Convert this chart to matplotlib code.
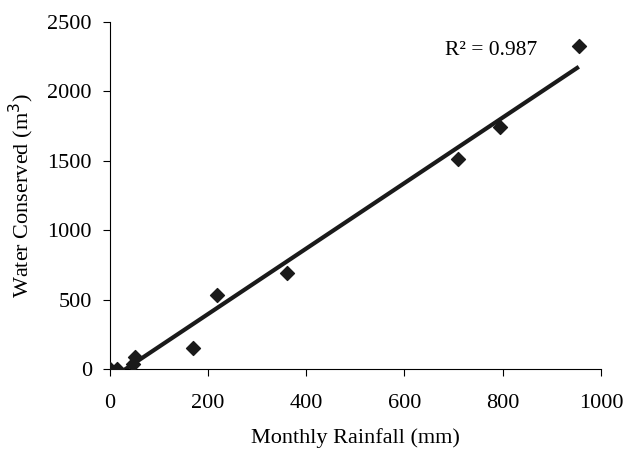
import numpy as np
import matplotlib
matplotlib.use("Agg")
import matplotlib.pyplot as plt

rainfall = [0, 14, 47, 51, 170, 219, 360, 710, 795, 955]
water = [0, 0, 35, 85, 153, 533, 692, 1513, 1743, 2327]

plt.rcParams['font.family'] = ['Liberation Serif', 'DejaVu Serif']

fig = plt.figure(figsize=(6.24, 4.49), dpi=100)
ax = fig.add_axes([0.176, 0.178, 0.787, 0.773])

ax.scatter(rainfall, water, marker='D', s=50, color='#1a1a1a', zorder=3)

# linear trendline
k, b = np.polyfit(rainfall, water, 1)
xs = np.array([0, max(rainfall)])
ax.plot(xs, k * xs + b, color='#1a1a1a', lw=3, solid_capstyle='butt', zorder=2)
ax.text(682, 2265, 'R² = 0.987', fontsize=15.5)

ax.set_xlim(0, 1000)
ax.set_ylim(0, 2500)
ax.set_xticks(range(0, 1001, 200))
ax.set_yticks(range(0, 2501, 500))
ax.spines['top'].set_visible(False)
ax.spines['right'].set_visible(False)
ax.tick_params(labelsize=16, direction='out', length=5)
ax.tick_params(axis='y', pad=8)
ax.tick_params(axis='x', pad=13)
ax.set_xlabel('Monthly Rainfall (mm)', fontsize=16, labelpad=11)
ax.set_ylabel('Water Conserved (m$^3$)', fontsize=16, labelpad=8)

fig.savefig('out.png', dpi=100)
